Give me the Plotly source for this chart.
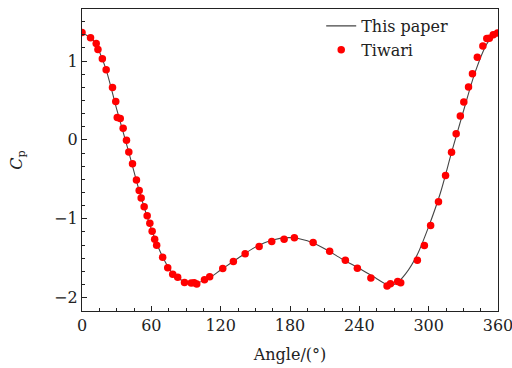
import plotly.graph_objects as go

# Tiwari reference points (angle in degrees, pressure coefficient)
tiwari_angle = [0, 7.4, 12.3, 13.8, 17.6, 20.9, 26.4, 29.2, 30.5, 33.1, 35.6, 38.5,
                40.5, 43.7, 47.1, 49.5, 51.2, 53.8, 56.4, 58.7, 60.7, 62.9, 64.6,
                69.8, 74.2, 78.5, 82.8, 88.7, 94.5, 97.1, 99.3, 106.0, 110.5,
                121.8, 131.0, 141.2, 153.3, 164.2, 174.9, 183.8, 200.0, 214.3,
                227.9, 238.3, 250.0, 264.0, 266.9, 273.2, 275.8, 290.2, 296.3,
                301.7, 308.5, 314.6, 319.8, 323.8, 327.4, 330.4, 334.5, 337.9,
                342.1, 346.9, 350.3, 352.5, 355.9, 359.6]
tiwari_cp = [1.361, 1.294, 1.224, 1.146, 1.028, 0.889, 0.663, 0.486, 0.284, 0.272,
             0.148, -0.006, -0.153, -0.304, -0.510, -0.643, -0.738, -0.848, -0.963,
             -1.058, -1.159, -1.259, -1.337, -1.487, -1.620, -1.704, -1.742, -1.808,
             -1.816, -1.811, -1.829, -1.773, -1.735, -1.630, -1.542, -1.444, -1.352,
             -1.289, -1.259, -1.242, -1.301, -1.411, -1.525, -1.627, -1.751, -1.854,
             -1.824, -1.795, -1.811, -1.525, -1.339, -1.086, -0.786, -0.451, -0.158,
             0.078, 0.303, 0.481, 0.670, 0.838, 1.047, 1.192, 1.287, 1.290, 1.334,
             1.357]

# Present computation (this paper)
paper_angle = [0, 10, 20, 30, 40, 50, 60, 70, 80, 90, 100, 110, 120, 135, 150, 165,
               180, 195, 210, 225, 240, 255, 265, 272, 280, 290, 300, 310, 320, 330,
               340, 350, 355, 360]
paper_cp = [1.36, 1.26, 0.93, 0.39, -0.13, -0.67, -1.13, -1.49, -1.72, -1.80, -1.81,
            -1.75, -1.65, -1.50, -1.36, -1.27, -1.24, -1.28, -1.38, -1.51, -1.63,
            -1.76, -1.84, -1.82, -1.70, -1.46, -1.10, -0.68, -0.15, 0.36, 0.85,
            1.21, 1.31, 1.36]

x_ticks = [0, 60, 120, 180, 240, 300, 360]
y_ticks = [-2, -1, 0, 1]

FONT = "DejaVu Serif"
FS = 16
INK = "#222222"

fig = go.Figure()
fig.add_trace(go.Scatter(
    x=paper_angle, y=paper_cp, mode="lines", name="This paper",
    line=dict(color="#444444", width=1.1, shape="spline", smoothing=0.8),
))
fig.add_trace(go.Scatter(
    x=tiwari_angle, y=tiwari_cp, mode="markers", name="Tiwari",
    marker=dict(color="#ff0000", size=7.5, line=dict(width=0)),
))

axis_common = dict(
    showline=True, linecolor=INK, linewidth=1.2, mirror=True,
    ticks="inside", ticklen=5, tickwidth=1, tickcolor=INK,
    showgrid=False, zeroline=False, automargin=False,
    tickfont=dict(family=FONT, size=FS, color=INK),
    ticklabeloverflow="allow",
)

fig.update_xaxes(
    range=[0, 360], tickvals=x_ticks, ticktext=[str(v) for v in x_ticks],
    minor=dict(dtick=15, tick0=0, ticks="inside", ticklen=3, tickcolor=INK),
    title=dict(text="Angle/(°)", font=dict(family=FONT, size=FS, color=INK),
               standoff=14),
    **axis_common,
)
fig.update_yaxes(
    range=[-2.17, 1.66], tickvals=y_ticks,
    ticktext=["\u22122", "\u22121", "0", "1"],
    minor=dict(tickvals=[-2 + i / 6 for i in range(24) if i % 6 != 0],
               ticks="inside", ticklen=3, tickcolor=INK),
    title=dict(text="<i>C</i><sub>p</sub>", font=dict(family=FONT, size=FS, color=INK),
               standoff=27),
    **axis_common,
)

fig.update_layout(
    width=512, height=368,
    margin=dict(l=82, r=14, t=9, b=57),
    paper_bgcolor="white", plot_bgcolor="white",
    showlegend=True,
    legend=dict(x=0.575, y=1.0, xanchor="left", yanchor="top",
                bgcolor="rgba(0,0,0,0)", borderwidth=0,
                font=dict(family=FONT, size=FS, color=INK),
                tracegroupgap=0, itemwidth=30),
)

fig.write_html("out.html")
